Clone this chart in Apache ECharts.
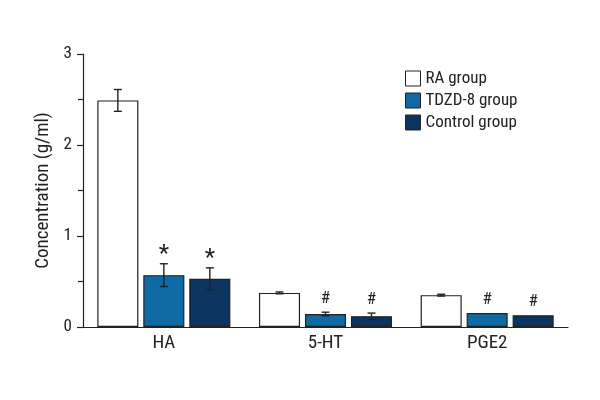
<!DOCTYPE html>
<html><head><meta charset="utf-8">
<script src="https://cdn.jsdelivr.net/npm/echarts@6/dist/echarts.min.js"></script>
<style>html,body{margin:0;padding:0;background:#fff}#c{width:600px;height:400px}</style>
</head><body><div id="c"></div>
<script>
var categories = ['HA', '5-HT', 'PGE2'];
var seriesNames = ['RA group', 'TDZD-8 group', 'Control group'];
var raValues = [2.49, 0.375, 0.35];
var raErr = [0.12, 0.01, 0.01];
var tdzdValues = [0.57, 0.143, 0.154];
var tdzdErr = [0.125, 0.02, 0.0];
var controlValues = [0.53, 0.118, 0.129];
var controlErr = [0.12, 0.035, 0.0];
var tdzdMarks = ['*', '#', '#'];
var controlMarks = ['*', '#', '#'];
var yTicks = [0, 1, 2, 3];

var colors = ['#ffffff', '#0f69a3', '#0b3461'];
var FONT = '"Roboto Condensed", "Liberation Sans", sans-serif';
var BW = 0.254, GAP = 0.12;
var values = [raValues, tdzdValues, controlValues];
var errs = [raErr, tdzdErr, controlErr];
var marks = [[null, null, null], tdzdMarks, controlMarks];

function barSeries(i) {
  return {
    name: seriesNames[i], type: 'bar', data: values[i],
    barWidth: (BW * 100) + '%', barGap: (GAP * 100) + '%',
    itemStyle: { color: colors[i], borderColor: '#222', borderWidth: 1.2 },
    z: 2
  };
}
function errSeries(i) {
  var data = categories.map(function (c, k) { return [k, values[i][k], errs[i][k], marks[i][k] || '']; });
  return {
    type: 'custom', data: data, z: 5, silent: true,
    renderItem: function (params, api) {
      var k = api.value(0), v = api.value(1), e = api.value(2), m = data[params.dataIndex][3];
      var band = api.size([1, 0])[0];
      var bw = band * BW;
      var off = (i - 1) * bw * (1 + GAP);
      var c = api.coord([k, v]);
      var x = c[0] + off;
      var top = api.coord([k, v + e])[1];
      var bot = api.coord([k, v - e])[1];
      var cap = 4;
      var ch = [];
      if (e > 0) {
        ch.push({ type: 'line', shape: { x1: x, y1: top, x2: x, y2: bot }, style: { stroke: '#222', lineWidth: 1.4 } });
        ch.push({ type: 'line', shape: { x1: x - cap, y1: top, x2: x + cap, y2: top }, style: { stroke: '#222', lineWidth: 1.4 } });
        ch.push({ type: 'line', shape: { x1: x - cap, y1: bot, x2: x + cap, y2: bot }, style: { stroke: '#222', lineWidth: 1.4 } });
      }
      if (m) {
        var isStar = m === '*';
        ch.push({ type: 'text', x: x, y: top - (isStar ? -3 : 5),
          style: { text: m, fill: '#222', font: (isStar ? '24px ' : '17px ') + FONT, align: 'center', verticalAlign: 'bottom' } });
      }
      return { type: 'group', children: ch };
    }
  };
}

var chart = echarts.init(document.getElementById('c'));
chart.setOption({
  animation: false,
  textStyle: { fontFamily: FONT },
  grid: { left: 83, right: 32, top: 54, bottom: 73 },
  legend: {
    data: seriesNames.map(function (n) { return { name: n, icon: 'rect' }; }),
    orient: 'vertical', left: 400, top: 65,
    itemWidth: 15, itemHeight: 15, itemGap: 5,
    textStyle: { fontSize: 17, lineHeight: 15, color: '#222', fontFamily: FONT },
    itemStyle: { borderColor: '#222', borderWidth: 1 }
  },
  xAxis: {
    type: 'category', data: categories,
    axisLine: { lineStyle: { color: '#222', width: 1.2 } },
    axisTick: { show: false },
    axisLabel: { fontSize: 19, color: '#222', margin: 7, fontFamily: FONT }
  },
  yAxis: {
    type: 'value', min: 0, max: 3, interval: 1,
    name: 'Concentration (g/ml)', nameLocation: 'middle', nameGap: 30, nameRotate: 90,
    nameTextStyle: { fontSize: 19, color: '#222', fontFamily: FONT },
    axisLine: { show: true, lineStyle: { color: '#222', width: 1.2 } },
    axisTick: { show: true, length: 6, lineStyle: { color: '#222', width: 1.2 } },
    minorTick: { show: true, splitNumber: 2, length: 5, lineStyle: { color: '#222', width: 1.2 } },
    splitLine: { show: false },
    axisLabel: { fontSize: 17, color: '#222', margin: 11, fontFamily: FONT,
      formatter: function (v) { return yTicks.indexOf(v) >= 0 ? String(v) : ''; } }
  },
  series: [barSeries(0), barSeries(1), barSeries(2), errSeries(0), errSeries(1), errSeries(2)]
});
</script></body></html>
